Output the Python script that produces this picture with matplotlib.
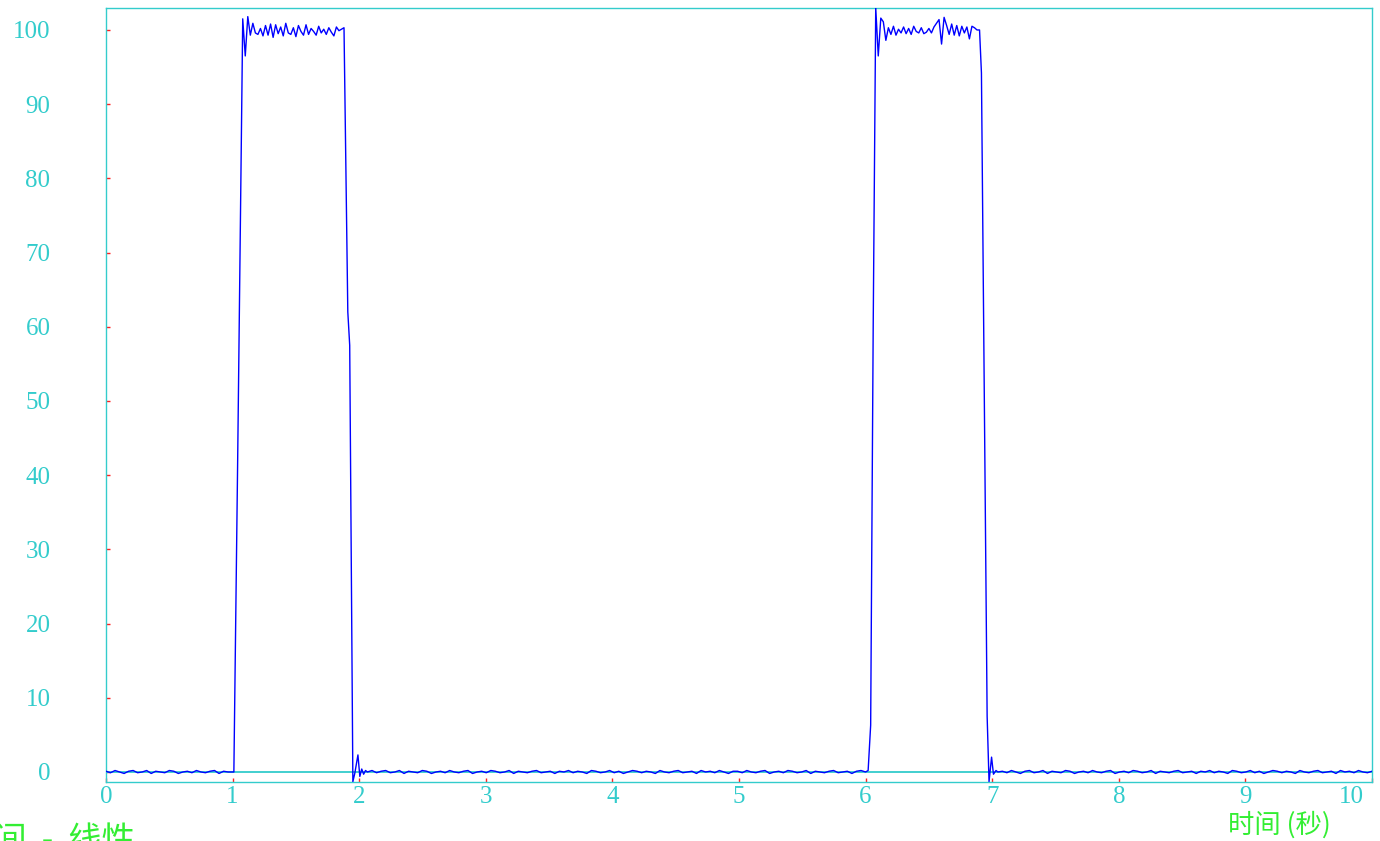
import numpy as np
import matplotlib
matplotlib.use("Agg")
import matplotlib.pyplot as plt

# ---------------- data ----------------
x_ticks = [0, 1, 2, 3, 4, 5, 6, 7, 8, 9, 10]
y_ticks = [0, 10, 20, 30, 40, 50, 60, 70, 80, 90, 100]
x_label = "时间 (秒)"
corner_label = "时间  -  线性"

base1_span = (0.0, 1.0)
base1_vals = [0.1, -0.1, 0.2, 0.0, -0.2, 0.1, 0.2, -0.1, 0.0, 0.2, -0.2, 0.1, 0.0, -0.1,
              0.2, 0.1, -0.2, 0.0, 0.1, -0.1, 0.2, 0.0, -0.1, 0.1, 0.2, -0.2, 0.1, 0.0, 0.0]

rise1_t = [1.01, 1.04, 1.08]
rise1_v = [0.0, 42.0, 101.5]

top1_span = (1.10, 1.88)
top1_vals = [96.5, 101.8, 99.3, 100.9, 99.6, 99.4, 100.2, 99.2, 100.6, 99.3,
             100.8, 99.0, 100.7, 99.5, 100.4, 99.2, 100.9, 99.6, 99.4, 100.3,
             99.1, 100.6, 99.8, 99.3, 100.7, 99.4, 100.2, 99.8, 99.3, 100.5,
             99.6, 100.1, 99.4, 100.3, 99.7, 99.2, 100.4, 99.9, 100.1, 100.3]

fall1_t = [1.91, 1.925, 1.95, 1.965, 1.99, 2.005, 2.02, 2.035, 2.05]
fall1_v = [62.0, 57.5, -1.3, -0.2, 2.3, -0.6, 0.4, -0.3, 0.2]

base2_span = (2.065, 6.0)
base2_vals = [0.0, 0.2, -0.1, 0.1, 0.2, -0.1, 0.0, 0.2, -0.2, 0.1, 0.0, -0.1, 0.2, 0.1,
              -0.2, 0.0, 0.1, -0.1, 0.2, 0.0, -0.1, 0.1, 0.2, -0.2, 0.0, 0.1, -0.1, 0.2,
              0.1, -0.1, 0.0, 0.2, -0.2, 0.1, 0.0, -0.1, 0.1, 0.2, -0.1, 0.0, 0.1, -0.2,
              0.1, 0.0, 0.2, -0.1, 0.1, 0.0, -0.2, 0.2, 0.1, -0.1, 0.0, 0.2, -0.1, 0.1,
              -0.2, 0.0, 0.2, 0.1, -0.1, 0.1, 0.0, -0.2, 0.2, 0.0, -0.1, 0.1, 0.2, -0.1,
              0.0, 0.1, -0.2, 0.2, 0.0, 0.1, -0.1, 0.2, 0.0, -0.2, 0.1, 0.1, -0.1, 0.2,
              0.0, -0.1, 0.1, 0.2, -0.2, 0.0, 0.1, -0.1, 0.2, 0.1, -0.1, 0.0, 0.2, -0.2,
              0.1, 0.0, -0.1, 0.1, 0.2, -0.1, 0.0, 0.1, -0.2, 0.1, 0.2, 0.0]

rise2_t = [6.02, 6.04, 6.06, 6.08]
rise2_v = [0.2, 6.3, 60.0, 103.0]

top2_span = (6.10, 6.88)
top2_vals = [96.5, 101.6, 101.1, 98.6, 100.3, 99.4, 100.5, 99.3, 100.1, 99.6,
             100.4, 99.5, 100.2, 99.4, 100.5, 99.8, 99.6, 100.3, 99.5, 99.7,
             100.2, 99.6, 100.4, 100.9, 101.4, 98.1, 101.7, 100.6, 99.4, 100.8,
             99.3, 100.6, 99.2, 100.5, 99.6, 100.4, 98.8, 100.5, 100.3, 100.0]

fall2_t = [6.90, 6.915, 6.96, 6.975, 6.995, 7.01, 7.03]
fall2_v = [100.0, 94.2, 7.5, -1.3, 2.0, -0.3, 0.2]

base3_span = (7.045, 10.0)
base3_vals = [0.0, 0.1, -0.1, 0.2, 0.0, -0.2, 0.1, 0.2, -0.1, 0.0, 0.2, -0.2, 0.1, 0.0,
              -0.1, 0.2, 0.1, -0.2, 0.0, 0.1, -0.1, 0.2, 0.0, -0.1, 0.1, 0.2, -0.2, 0.0,
              0.1, -0.1, 0.2, 0.1, -0.1, 0.0, 0.2, -0.2, 0.1, 0.0, -0.1, 0.1, 0.2, -0.1,
              0.0, 0.1, -0.2, 0.1, 0.0, 0.2, -0.1, 0.1, 0.0, -0.2, 0.2, 0.1, -0.1, 0.0,
              0.2, -0.1, 0.1, -0.2, 0.0, 0.2, 0.1, -0.1, 0.1, 0.0, -0.2, 0.2, 0.0, -0.1,
              0.1, 0.2, -0.1, 0.0, 0.1, -0.2, 0.2, 0.0, 0.1, -0.1, 0.2, 0.0, -0.1, 0.1]

# ---------------- assemble ----------------
def span_times(span, vals):
    return list(np.linspace(span[0], span[1], len(vals)))

t = (span_times(base1_span, base1_vals) + rise1_t + span_times(top1_span, top1_vals) + fall1_t
     + span_times(base2_span, base2_vals) + rise2_t + span_times(top2_span, top2_vals) + fall2_t
     + span_times(base3_span, base3_vals))
y = (base1_vals + rise1_v + top1_vals + fall1_v + base2_vals + rise2_v + top2_vals + fall2_v
     + base3_vals)

# ---------------- style ----------------
CYAN = "#33cccc"
RED = "#ff2020"
GREEN = "#33ee33"
SERIF = "Liberation Serif"
CJK = ["Noto Sans CJK SC", "DejaVu Sans"]

W, H = 1380, 841
fig = plt.figure(figsize=(W / 100, H / 100), dpi=100, facecolor="white")
ax = fig.add_axes([106 / W, 1 - 782 / H, (1372 - 106) / W, (782 - 8) / H])

ax.plot(t, y, color="#0000ff", lw=1.0, zorder=3)
ax.axhline(0, color=CYAN, lw=1.3, zorder=2)

ax.set_xlim(0, 10)
ax.set_ylim(-1.35, 102.96)

for sp in ax.spines.values():
    sp.set_color(CYAN)
    sp.set_linewidth(1.0)

ax.set_xticks(x_ticks)
ax.set_yticks(y_ticks)
ax.tick_params(axis="both", direction="in", colors=RED, length=3, width=1)
ax.set_xticklabels([])
ax.set_yticklabels([str(v) for v in y_ticks], fontfamily=SERIF, fontsize=18, color=CYAN)
ax.tick_params(axis="y", pad=40, labelcolor=CYAN)

for xv in x_ticks:
    last = xv == x_ticks[-1]
    ax.annotate(str(xv), xy=(xv, 0), xycoords=("data", "axes fraction"),
                xytext=(-8 if last else 0, -4), textcoords="offset pixels",
                ha="right" if last else "center", va="top",
                fontfamily=SERIF, fontsize=18, color=CYAN)

fig.text(1228 / W, 1 - 825 / H, x_label, family=CJK, fontsize=19, color=GREEN,
         ha="left", va="center")
fig.text(-40 / W, 1 - 823 / H, corner_label, family=CJK, fontsize=24, color=GREEN,
         ha="left", va="top")

fig.savefig("out.png", dpi=100, facecolor="white")
